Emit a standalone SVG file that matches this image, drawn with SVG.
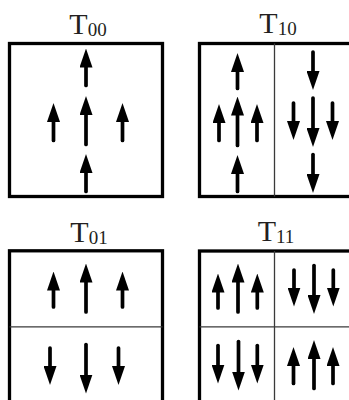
<svg xmlns="http://www.w3.org/2000/svg" width="349" height="400" viewBox="0 0 349 400">
<style>
.box{fill:none;stroke:#000;stroke-width:3.3}
.div{fill:none;stroke:#3a3a3a;stroke-width:1.3}
.arr{fill:none;stroke:#000;stroke-width:3.7;stroke-linecap:round;marker-end:url(#ah)}
.lbl{font-family:"Liberation Serif","Times New Roman",serif;font-size:30px;fill:#231f20}
.sub{font-size:19px}
</style>
<defs>
<marker id="ah" markerUnits="userSpaceOnUse" markerWidth="19" markerHeight="13" viewBox="0 0 19 13" refX="7" refY="6.5" orient="auto">
<path d="M0,0 L19,6.5 L0,13 z" fill="#000"/>
</marker>
</defs>
<rect width="349" height="400" fill="#fff"/>
<g id="T00">
<text class="lbl" x="88" y="34" text-anchor="middle">T<tspan class="sub" dy="2">00</tspan></text>
<rect class="box" x="9.5" y="43.5" width="153" height="153"/>
<path class="arr" d="M86 85.5V60.5"/>
<path class="arr" d="M86 144.5V108"/>
<path class="arr" d="M53.5 140.5V115"/>
<path class="arr" d="M122.5 140.5V115"/>
<path class="arr" d="M86 191.5V166"/>
</g>
<g id="T10">
<text class="lbl" x="278" y="33" text-anchor="middle">T<tspan class="sub" dy="2">10</tspan></text>
<rect class="box" x="199.5" y="43.5" width="153" height="153"/>
<line class="div" x1="274.5" y1="43.5" x2="274.5" y2="196.5"/>
<path class="arr" d="M237.5 88.5V65"/>
<path class="arr" d="M237.5 145.5V108.5"/>
<path class="arr" d="M219 140.5V116"/>
<path class="arr" d="M257 140.5V116"/>
<path class="arr" d="M237.5 191.5V167"/>
<path class="arr" d="M313 52V78"/>
<path class="arr" d="M313 98V135"/>
<path class="arr" d="M293.5 103V128"/>
<path class="arr" d="M332.5 103V128"/>
<path class="arr" d="M313 154.5V181"/>
</g>
<g id="T01">
<text class="lbl" x="89" y="241.5" text-anchor="middle">T<tspan class="sub" dy="2">01</tspan></text>
<rect class="box" x="9.5" y="250.8" width="153" height="153"/>
<line class="div" x1="9.5" y1="326.8" x2="162.5" y2="326.8"/>
<path class="arr" d="M53.5 307V283.5"/>
<path class="arr" d="M86 312V275.5"/>
<path class="arr" d="M122.5 307V283.5"/>
<path class="arr" d="M50 348V373"/>
<path class="arr" d="M86 344.5V381.5"/>
<path class="arr" d="M118.5 348V373"/>
</g>
<g id="T11">
<text class="lbl" x="276" y="240.5" text-anchor="middle">T<tspan class="sub" dy="2">11</tspan></text>
<rect class="box" x="199.5" y="251" width="153" height="153"/>
<line class="div" x1="274.5" y1="251" x2="274.5" y2="404"/>
<line class="div" x1="199.5" y1="326.8" x2="352" y2="326.8"/>
<path class="arr" d="M218 308V285.5"/>
<path class="arr" d="M238 312V275.5"/>
<path class="arr" d="M257.3 308V285.5"/>
<path class="arr" d="M294 270V294.5"/>
<path class="arr" d="M314 265.5V302"/>
<path class="arr" d="M333.3 270V294.5"/>
<path class="arr" d="M218 345.5V371.5"/>
<path class="arr" d="M238.5 341.5V378.5"/>
<path class="arr" d="M257.3 345.5V371.5"/>
<path class="arr" d="M293.5 383.5V359"/>
<path class="arr" d="M314 388.5V352"/>
<path class="arr" d="M333 383.5V359"/>
</g>
</svg>
